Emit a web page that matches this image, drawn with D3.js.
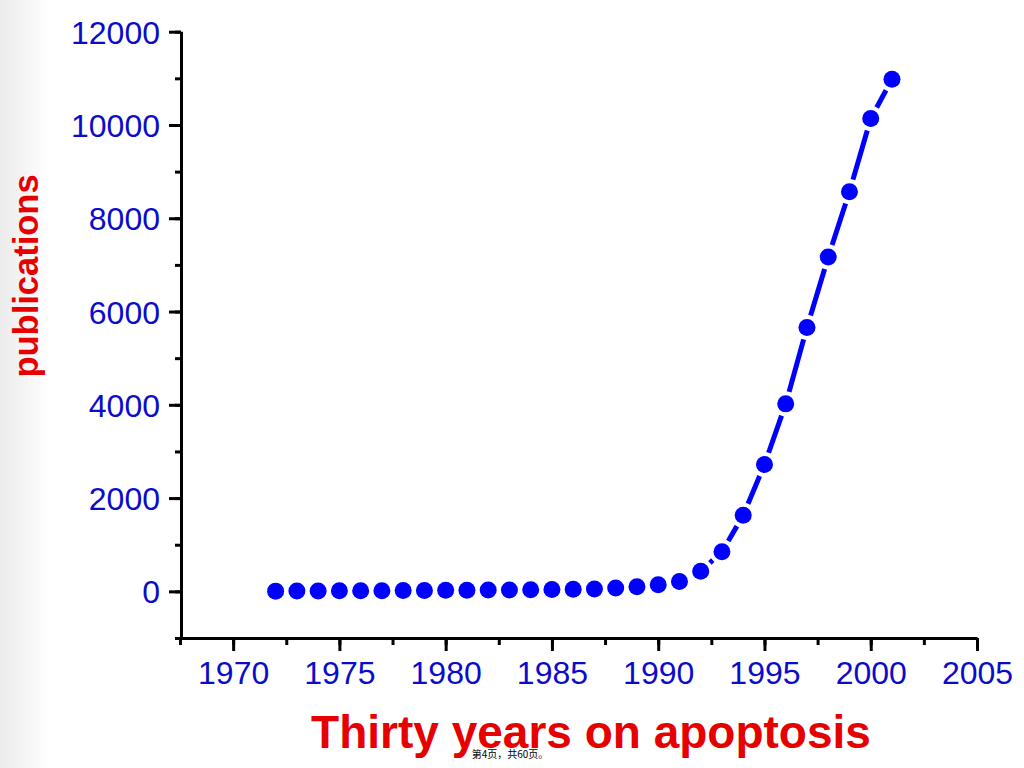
<!DOCTYPE html>
<html>
<head>
<meta charset="utf-8">
<script src="https://cdn.jsdelivr.net/npm/d3@7"></script>
<style>
  body { margin: 0; background: #fff; }
  #chart-area svg { display: block; }
</style>
</head>
<body>
<div id="chart-area"></div>
<script>
// data
const years = d3.range(1972, 2002);
const publications = [5, 8, 10, 12, 15, 15, 18, 20, 22, 25, 28, 30, 35, 40, 45, 50,
                      70, 100, 140, 210, 430, 850, 1630, 2720, 4020, 5660, 7170, 8570, 10140, 10980];
const xTicks = [1970, 1975, 1980, 1985, 1990, 1995, 2000, 2005];
const yTicks = [0, 2000, 4000, 6000, 8000, 10000, 12000];
const xLabel = "Thirty years on apoptosis";
const yLabel = "publications";
const footer = "第4页，共60页。";

const width = 1024, height = 768;
const data = years.map((y, i) => ({year: y, value: publications[i]}));

const svg = d3.select('#chart-area')
    .append('svg')
    .attr('width', width)
    .attr('height', height);

// faint grey band down the left edge
const grad = svg.append('defs').append('linearGradient')
    .attr('id', 'edge').attr('x1', 0).attr('x2', 1);
grad.append('stop').attr('offset', 0).attr('stop-color', '#ebebeb');
grad.append('stop').attr('offset', 1).attr('stop-color', '#ffffff');
svg.append('rect').attr('width', 50).attr('height', height).attr('fill', 'url(#edge)');

const x = d3.scaleLinear().domain([1967.5, 2005]).range([180, 977]);
const y = d3.scaleLinear().domain([-1000, 12000]).range([638, 31.7]);

const font = '"Liberation Sans", Arial, sans-serif';
const tickBlue = '#0b0bcc';

// minor ticks first
svg.append('g')
    .attr('transform', 'translate(0,638)')
    .call(d3.axisBottom(x).tickValues(d3.range(1967.5, 2005, 2.5)).tickSize(7).tickFormat(''))
    .call(g => g.select('.domain').remove())
    .selectAll('line').attr('stroke', '#000').attr('stroke-width', 3);
svg.append('g')
    .attr('transform', 'translate(181,0)')
    .call(d3.axisLeft(y).tickValues(d3.range(-1000, 12001, 1000)).tickSize(6).tickFormat(''))
    .call(g => g.select('.domain').remove())
    .selectAll('line').attr('stroke', '#000').attr('stroke-width', 3);

// major ticks + labels
const xAxis = svg.append('g')
    .attr('transform', 'translate(0,638)')
    .call(d3.axisBottom(x).tickValues(xTicks).tickSize(13).tickSizeOuter(0).tickPadding(10).tickFormat(d3.format('d')));
xAxis.select('.domain').attr('stroke', '#000').attr('stroke-width', 3);
xAxis.selectAll('line').attr('stroke', '#000').attr('stroke-width', 3);
xAxis.selectAll('text')
    .attr('font-family', font).attr('font-size', 32).attr('fill', tickBlue);

const yAxis = svg.append('g')
    .attr('transform', 'translate(181,0)')
    .call(d3.axisLeft(y).tickValues(yTicks).tickSize(12).tickSizeOuter(0).tickPadding(9).tickFormat(d3.format('d')));
yAxis.select('.domain').attr('stroke', '#000').attr('stroke-width', 3)
    .attr('d', `M0.5,${y(12000)}V${y(-1000)}`);
yAxis.selectAll('line').attr('stroke', '#000').attr('stroke-width', 3);
yAxis.selectAll('text')
    .attr('font-family', font).attr('font-size', 32).attr('fill', tickBlue).attr('dy', '0.36em');

// line segments gapped around the markers
const r = 8.5, gap = 12.5;
const segs = d3.pairs(data).map(([a, b]) => {
    const x1 = x(a.year), y1 = y(a.value), x2 = x(b.year), y2 = y(b.value);
    const len = Math.hypot(x2 - x1, y2 - y1);
    return {x1, y1, x2, y2, len};
}).filter(s => s.len > 2 * gap);

svg.append('g').selectAll('line')
    .data(segs)
    .enter()
    .append('line')
    .attr('x1', s => s.x1 + (s.x2 - s.x1) * gap / s.len)
    .attr('y1', s => s.y1 + (s.y2 - s.y1) * gap / s.len)
    .attr('x2', s => s.x2 - (s.x2 - s.x1) * gap / s.len)
    .attr('y2', s => s.y2 - (s.y2 - s.y1) * gap / s.len)
    .attr('stroke', '#0000ff')
    .attr('stroke-width', 5)
    .attr('stroke-linecap', 'butt');

svg.append('g').selectAll('circle')
    .data(data)
    .enter()
    .append('circle')
    .attr('cx', d => x(d.year))
    .attr('cy', d => y(d.value))
    .attr('r', r)
    .attr('fill', '#0000ff');

// axis titles
svg.append('text')
    .attr('transform', 'translate(38,276) rotate(-90)')
    .attr('text-anchor', 'middle')
    .attr('font-family', font).attr('font-weight', 'bold').attr('font-size', 34.5)
    .attr('fill', '#e60000')
    .text(yLabel);

svg.append('text')
    .attr('x', 591).attr('y', 748)
    .attr('text-anchor', 'middle')
    .attr('font-family', font).attr('font-weight', 'bold').attr('font-size', 46)
    .attr('fill', '#e60000')
    .text(xLabel);

svg.append('text')
    .attr('x', 510).attr('y', 758)
    .attr('text-anchor', 'middle')
    .attr('font-family', '"Noto Sans CJK SC", sans-serif').attr('font-size', 10)
    .attr('fill', '#000')
    .text(footer);
</script>
</body>
</html>
